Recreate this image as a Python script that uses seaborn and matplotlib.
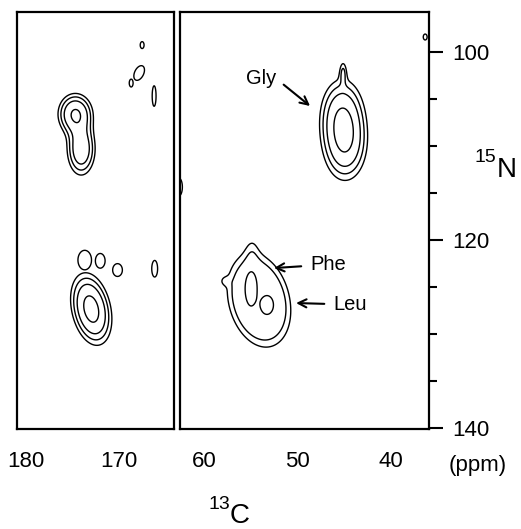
import numpy as np
import matplotlib
matplotlib.use("Agg")
import matplotlib.pyplot as plt
import matplotlib.ticker as mticker
import seaborn as sns

# ------------------------------------------------------------------ #
# picos 13C-15N lidos do espectro (ppm)
# faixa esquerda: carbonilas
CO_C     = [174.73, 174.09, 167.53, 167.85, 168.71, 166.24, 173.01, 173.71, 172.04, 170.18, 166.18]
CO_N     = [106.60, 110.32,  99.26, 102.23, 103.30, 104.68, 127.34, 122.13, 122.21, 123.19, 123.05]
CO_WC    = [1.08, 0.92, 0.29, 0.73, 0.29, 0.29, 1.18, 1.02, 0.73, 0.73, 0.44]
CO_WN    = [1.28, 1.70, 0.51, 1.09, 0.58, 1.52, 2.13, 1.45, 1.09, 0.95, 1.23]
CO_AMP   = [0.52, 0.45, 0.155, 0.155, 0.155, 0.155, 0.62, 0.155, 0.155, 0.155, 0.155]
CO_SHEAR = [0, 0, 0, 0.3, 0, 0, -0.157, 0, 0, 0, 0]
CO_POW   = [1, 1, 1, 1, 1, 1, 1, 1, 1, 1, 1]
CO_GROUP = [0, 0, 1, 2, 3, 4, 5, 6, 7, 8, 9]

# faixa direita: carbonos alfa
CA_C     = [45.24, 44.91, 45.13, 54.16, 55.02, 53.30, 54.91, 57.92, 36.31, 62.76]
CA_N     = [106.70, 109.89, 102.13, 126.40, 125.11, 126.91, 120.64, 124.36, 98.40, 114.36]
CA_WC    = [1.38, 1.38, 0.27, 3.12, 0.48, 0.52, 0.65, 0.40, 0.29, 0.51]
CA_WN    = [2.34, 2.34, 0.85, 4.68, 1.40, 0.74, 1.06, 0.40, 0.44, 1.31]
CA_AMP   = [0.42, 0.42, 0.16, 0.25, 0.10, 0.10, 0.10, 0.10, 0.155, 0.155]
CA_SHEAR = [0, 0, 0, -0.15, 0, 0, 0, 0, 0, 0]
CA_POW   = [1, 1, 1, 3, 1, 1, 1, 1, 1, 1]
CA_GROUP = [0, 0, 0, 1, 1, 1, 1, 1, 2, 3]

LEVELS = [0.12, 0.19, 0.29, 0.5]

# rótulos (texto, posição do texto, ponta da seta)
LABELS     = ["Gly", "Phe", "Leu"]
LABEL_XY   = [(52.33, 103.40), (48.68, 123.19), (46.20, 127.45)]
ARROW_HEAD = [(48.68, 105.74), (52.55, 122.98), (50.18, 126.70)]
# ------------------------------------------------------------------ #

XLIM_L = (181.0, 164.1)
XLIM_R = (62.65, 35.9)
YLIM   = (140.1, 95.74)

sns.set_theme(style="white")
plt.rcParams.update({
    "font.family": ["Liberation Sans", "DejaVu Sans"],
    "axes.linewidth": 1.6,
    "axes.edgecolor": "black",
    "xtick.color": "black",
    "ytick.color": "black",
    "text.color": "black",
})


def spectrum(cc, nn, c0, n0, wc, wn, amp, shear, pw, group):
    sums = {}
    for i in range(len(c0)):
        dc = (cc - c0[i] - shear[i] * (nn - n0[i])) / wc[i]
        dn = (nn - n0[i]) / wn[i]
        q = dc**2 + dn**2
        g = amp[i] * np.exp(-0.5 * q**pw[i])
        sums[group[i]] = sums.get(group[i], 0) + g
    out = np.zeros_like(cc)
    for s in sums.values():
        out = np.maximum(out, s)
    return out


def draw_strip(ax, xlim, c0, n0, wc, wn, amp, shear, pw, group):
    c = np.linspace(max(xlim) + 2, min(xlim) - 2, 700)
    n = np.linspace(YLIM[1] - 2, YLIM[0] + 2, 800)
    cc, nn = np.meshgrid(c, n)
    z = spectrum(cc, nn, c0, n0, wc, wn, amp, shear, pw, group)
    ax.contour(cc, nn, z, levels=LEVELS, colors="black", linewidths=1.0)
    ax.set_xlim(*xlim)
    ax.set_ylim(*YLIM)
    ax.tick_params(axis="both", which="major", direction="out", length=10,
                   width=1.5, labelsize=16, pad=6)
    ax.tick_params(axis="both", which="minor", direction="out", length=6,
                   width=1.5)


fig = plt.figure(figsize=(5.21, 5.29), dpi=100)
W, H = 521, 529
ax_l = fig.add_axes([17 / W, (H - 429) / H, 157 / W, 417 / H])
ax_r = fig.add_axes([180 / W, (H - 429) / H, 249 / W, 417 / H])

draw_strip(ax_l, XLIM_L, CO_C, CO_N, CO_WC, CO_WN, CO_AMP, CO_SHEAR, CO_POW, CO_GROUP)
draw_strip(ax_r, XLIM_R, CA_C, CA_N, CA_WC, CA_WN, CA_AMP, CA_SHEAR, CA_POW, CA_GROUP)

ax_l.xaxis.set_major_locator(mticker.FixedLocator([180, 170]))
ax_l.xaxis.set_minor_locator(mticker.FixedLocator([175, 165]))
ax_l.set_yticks([])
ax_l.tick_params(axis="y", which="both", left=False, right=False)

ax_r.xaxis.set_major_locator(mticker.FixedLocator([60, 50, 40]))
ax_r.xaxis.set_minor_locator(mticker.FixedLocator([55, 45]))
ax_r.yaxis.set_major_locator(mticker.FixedLocator([100, 120, 140]))
ax_r.yaxis.set_minor_locator(mticker.FixedLocator([105, 110, 115, 125, 130, 135]))
ax_r.yaxis.tick_right()
ax_r.tick_params(axis="y", which="both", left=False, right=True, pad=7)

for txt, pos, head in zip(LABELS, LABEL_XY, ARROW_HEAD):
    ha = "right" if txt == "Gly" else "left"
    rel = (1.0, 0.5) if txt == "Gly" else (0.5, 0.5)
    ax_r.annotate(txt, xy=head, xytext=pos, ha=ha, va="baseline", fontsize=14.5,
                  arrowprops=dict(arrowstyle="->", lw=1.5, color="black",
                                  shrinkA=4, shrinkB=0, relpos=rel))

# rótulos dos eixos
fig.text(496 / W, 1 - 162 / H, "15", ha="right", va="baseline", fontsize=14)
fig.text(497 / W, 1 - 177 / H, "N", ha="left", va="baseline", fontsize=20)
fig.text(478 / W, 1 - 465 / H, "(ppm)", ha="center", va="center", fontsize=16)
fig.text(230 / W, 1 - 509 / H, "13", ha="right", va="baseline", fontsize=14)
fig.text(230 / W, 1 - 523 / H, "C", ha="left", va="baseline", fontsize=20)

fig.savefig("out.png", dpi=100, facecolor="white")
